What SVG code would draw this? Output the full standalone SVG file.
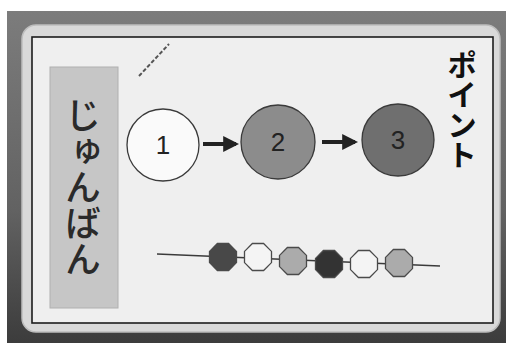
<svg xmlns="http://www.w3.org/2000/svg" width="506" height="343" viewBox="0 0 506 343">
  <defs>
    <linearGradient id="bg" x1="0" y1="0" x2="0" y2="1">
      <stop offset="0" stop-color="#7c7c7c"/>
      <stop offset="0.6" stop-color="#626262"/>
      <stop offset="1" stop-color="#3c3c3c"/>
    </linearGradient>
    <marker id="ah" markerWidth="4" markerHeight="4" refX="3.2" refY="2" orient="auto" markerUnits="strokeWidth">
      <path d="M0,0 L4,2 L0,4 Z" fill="#222"/>
    </marker>
    <polygon id="oct" points="5.6,-13.5 13.5,-5.6 13.5,5.6 5.6,13.5 -5.6,13.5 -13.5,5.6 -13.5,-5.6 -5.6,-13.5"/>
  </defs>
  <style>
    .jp { font-family: "Noto Sans CJK JP", "Noto Sans", sans-serif; }
    .num { font-family: "Liberation Sans", Arial, sans-serif; font-size: 26px; fill: #222; text-anchor: middle; }
    .node { stroke: #3a3a3a; stroke-width: 1.3; }
    .bead { stroke: #4a4a4a; stroke-width: 1.3; }
    .arrow { stroke: #222; stroke-width: 4; fill: none; marker-end: url(#ah); }
  </style>

  <!-- photo background -->
  <rect x="0" y="0" width="506" height="343" fill="#ffffff"/>
  <rect x="7" y="11" width="499" height="332" fill="url(#bg)"/>

  <!-- laminate card -->
  <rect x="22" y="25" width="478" height="307" rx="14" fill="#d9d9d9" stroke="#bdbdbd" stroke-width="1.5"/>
  <!-- paper -->
  <rect x="32" y="37" width="461" height="286" fill="#efefef" stroke="#1c1c1c" stroke-width="1.6"/>

  <!-- pen scratch on laminate -->
  <path d="M139,76 L169,44" stroke="#555" stroke-width="2" stroke-dasharray="4,2" fill="none"/>

  <!-- label じゅんばん -->
  <g id="label">
    <rect x="50" y="67" width="68" height="241" fill="#c6c6c6" stroke="#b0b0b0" stroke-width="1"/>
    <text class="jp" x="83" y="97" font-size="36" font-weight="500" fill="#2a2a2a" writing-mode="vertical-rl" style="writing-mode:vertical-rl">じゅんばん</text>
  </g>

  <!-- title ポイント -->
  <g id="title">
    <text class="jp" x="462" y="50" font-size="30" font-weight="bold" fill="#111" writing-mode="vertical-rl" style="writing-mode:vertical-rl">ポイント</text>
  </g>

  <!-- step nodes -->
  <g id="step1">
    <circle class="node" cx="163" cy="145" r="36" fill="#fafafa"/>
    <text class="num" x="163" y="154">1</text>
  </g>
  <g id="step2">
    <circle class="node" cx="278" cy="142" r="37" fill="#8c8c8c"/>
    <text class="num" x="278" y="151">2</text>
  </g>
  <g id="step3">
    <circle class="node" cx="398" cy="140" r="36" fill="#6f6f6f"/>
    <text class="num" x="398" y="149">3</text>
  </g>

  <!-- connectors -->
  <g id="connectors">
    <line class="arrow" x1="203" y1="144" x2="236" y2="144"/>
    <line class="arrow" x1="322" y1="142" x2="355" y2="142"/>
  </g>

  <!-- bead string -->
  <g id="beads">
    <path d="M157,254 L440,266" stroke="#3a3a3a" stroke-width="1.3" fill="none"/>
    <g id="bead1"><use href="#oct" class="bead" x="223" y="257" fill="#484848"/></g>
    <g id="bead2"><use href="#oct" class="bead" x="258" y="257" fill="#f4f4f4"/></g>
    <g id="bead3"><use href="#oct" class="bead" x="293" y="261" fill="#ababab"/></g>
    <g id="bead4"><use href="#oct" class="bead" x="329" y="264" fill="#333333"/></g>
    <g id="bead5"><use href="#oct" class="bead" x="364" y="264" fill="#f4f4f4"/></g>
    <g id="bead6"><use href="#oct" class="bead" x="399" y="263" fill="#ababab"/></g>
  </g>
</svg>
